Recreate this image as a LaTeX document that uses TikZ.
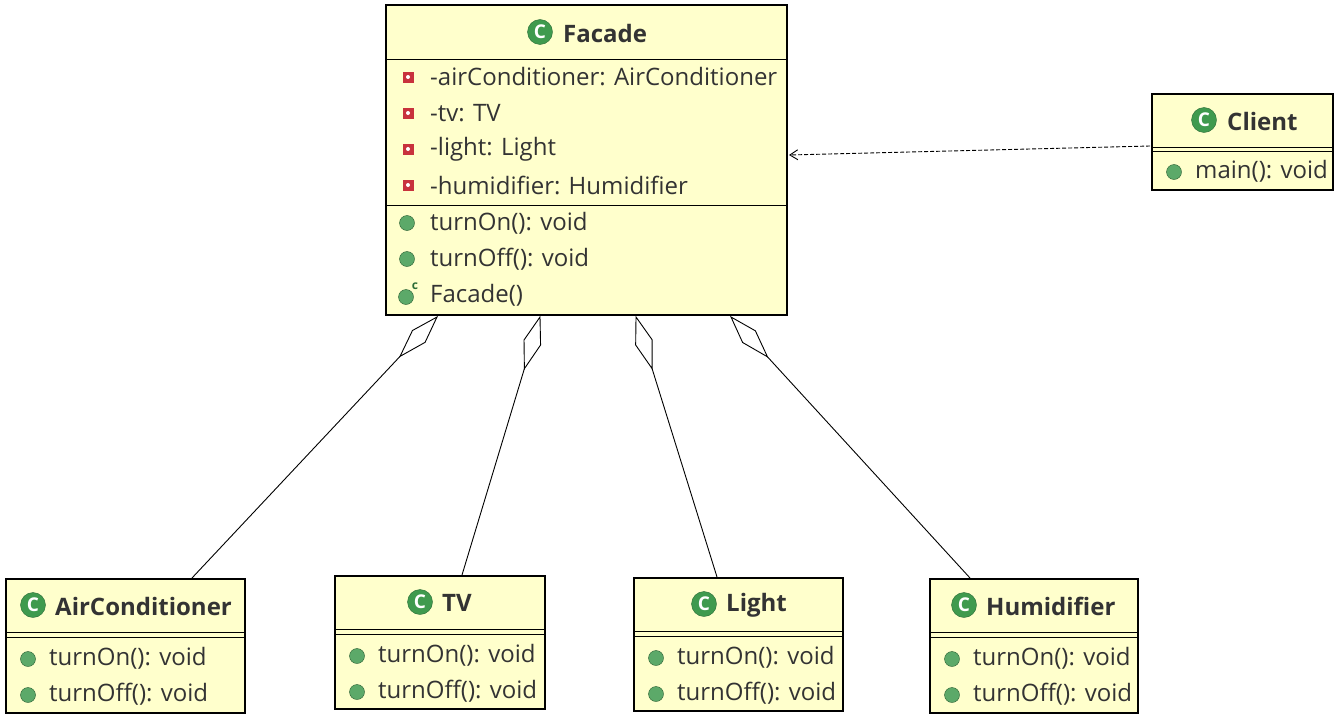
\documentclass[tikz,border=0pt]{standalone}
\usepackage{fontspec}
\setmainfont{Open Sans}
\usetikzlibrary{arrows.meta,calc}
\definecolor{boxfill}{HTML}{FFFFCC}
\definecolor{icg}{HTML}{3F9A4E}
\definecolor{icr}{HTML}{C8323C}
\tikzset{
  box/.style={draw=black,line width=1.3pt,fill=boxfill},
  sep/.style={line width=0.9pt},
  title/.style={font=\fontsize{24}{28}\selectfont\bfseries,text=black!80,anchor=west,inner sep=0pt},
  item/.style={font=\fontsize{24}{28}\selectfont,text=black!80,anchor=west,inner sep=0pt},
  cicon/.style={circle,fill=icg,draw=icg!70!black,minimum size=25pt,inner sep=0pt,text=white,font=\fontsize{19}{19}\selectfont\bfseries},
  micon/.style={circle,fill=icg!85,draw=icg!60!black,minimum size=15pt,inner sep=0pt},
  aicon/.style={rectangle,fill=icr,minimum size=11pt,inner sep=0pt},
  agg/.style={line width=0.9pt},
  dep/.style={line width=0.9pt,dash pattern=on 4pt off 2pt,-{Straight Barb[length=8pt,width=10pt]}},
}
\begin{document}
\begin{tikzpicture}[x=1pt,y=-1pt]
\useasboundingbox (0,0) rectangle (1338,720);
% Facade
\draw[box] (386,5) rectangle (787,315);
\node[cicon] (fci) at (540,32) {C};
\node[title] (ft) at (563,33) {Facade};
\draw[sep] (386,59) -- (787,59);
\draw[sep] (386,205) -- (787,205);
\foreach \y/\t [count=\i] in {77/-airConditioner: AirConditioner,113/-tv: TV,149/-light: Light,185/-humidifier: Humidifier}{
  \node[aicon] (fa\i) at (408,\y) {}; \fill[white] (408,\y) circle (2pt);
  \node[item] (fat\i) at (430,\y) {\t};
}
\foreach \y/\t [count=\i] in {223/turnOn(): void,259/turnOff(): void}{
  \node[micon] (fm\i) at (407,\y) {};
  \node[item] (fmt\i) at (430,\y) {\t};
}
\node[micon] (fcn) at (406,297) {};
\node[font=\fontsize{12}{12}\selectfont\bfseries,text=icg!70!black,inner sep=0pt] (fcs) at (415,286) {c};
\node[item] (fct) at (430,295) {Facade()};
% Client
\draw[box] (1152,94) rectangle (1333,190);
\node[cicon] (cci) at (1204,120) {C};
\node[title] (ct) at (1227,121) {Client};
\draw[sep] (1152,147) -- (1333,147); \draw[sep] (1152,151) -- (1333,151);
\node[micon] (cm) at (1174,172) {};
\node[item] (cmt) at (1195,171) {main(): void};
% small classes
\foreach \nm/\xa/\xb/\ya/\yb/\tx/\txt in {ac/6/245/579/713/33/AirConditioner, tv/335/545/576/709/420/TV, li/634/843/578/711/704/Light, hu/930/1138/579/713/964/Humidifier}{
  \draw[box] (\xa,\ya) rectangle (\xb,\yb);
  \node[cicon] (\nm ci) at (\tx,\ya+26) {C};
  \node[title] (\nm t) at (\tx+22,\ya+27) {\txt};
  \draw[sep] (\xa,\ya+53) -- (\xb,\ya+53); \draw[sep] (\xa,\ya+58) -- (\xb,\ya+58);
  \node[micon] (\nm m1) at (\xa+22,\ya+80) {};
  \node[item] (\nm mt1) at (\xa+43,\ya+79) {turnOn(): void};
  \node[micon] (\nm m2) at (\xa+22,\ya+116) {};
  \node[item] (\nm mt2) at (\xa+43,\ya+115) {turnOff(): void};
}
\coordinate (acT) at (192,578); \coordinate (tvT) at (462,575);
\coordinate (liT) at (717,577); \coordinate (huT) at (970,578);
% aggregation diamonds
\coordinate (d1) at (437,317); \coordinate (d2) at (540,317);
\coordinate (d3) at (636,317); \coordinate (d4) at (731,317);
\foreach \d/\t in {d1/acT,d2/tvT,d3/liT,d4/huT}{
  \draw[agg,fill=white] (\d) -- ($(\d)!28pt!18:(\t)$) -- ($(\d)!54pt!(\t)$) -- ($(\d)!28pt!-18:(\t)$) -- cycle;
  \draw[agg] ($(\d)!54pt!(\t)$) -- (\t);
}
% dependency
\coordinate (cl) at (1150,146); \coordinate (fr) at (789,155);
\draw[dep] (cl) -- (fr);
\end{tikzpicture}
\end{document}
